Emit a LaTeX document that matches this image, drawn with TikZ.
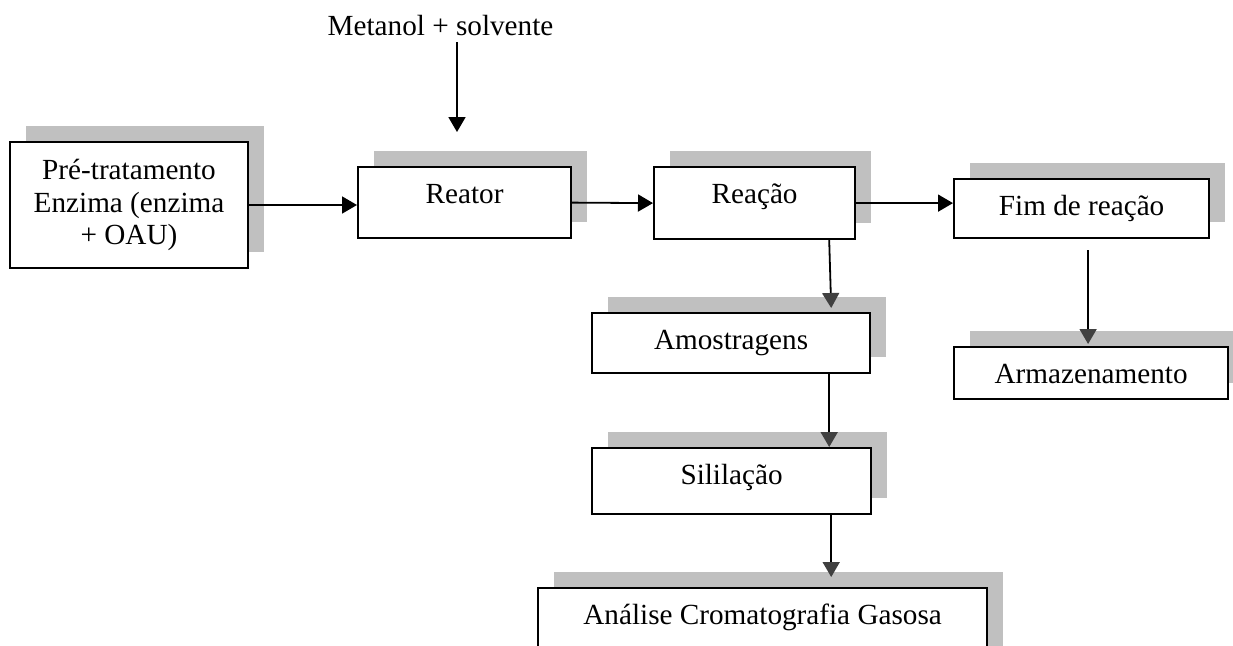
\documentclass[tikz,border=0pt]{standalone}
\usepackage{fontspec}
\setmainfont{Liberation Serif}
\usetikzlibrary{arrows.meta, positioning, shadows, calc}
\definecolor{shadowGray}{HTML}{C0C0C0}
\definecolor{tipGray}{HTML}{404040}
\tikzset{
  arrowK/.style={-{Triangle[length=7.5pt, width=8.5pt]}, black, line width=0.9pt},
  arrowS/.style={-{Triangle[length=7.5pt, width=8.5pt, color=tipGray]}, black, line width=0.9pt},
  boxBase/.style={rectangle, draw=black, fill=white, line width=1.1pt,
                  align=center, inner xsep=0pt, inner ysep=1.5pt,
                  drop shadow={shadow xshift=8pt, shadow yshift=8pt,
                               fill=shadowGray, opacity=1}},
  procBox/.style={boxBase, anchor=north west, text height=16.5pt},
}

\begin{document}
\begin{tikzpicture}[x=0.5pt, y=-0.5pt, font=\fontsize{14.6pt}{16.2pt}\selectfont]
    \useasboundingbox (0,0) rectangle (1233,645);
    % etapas
    \node[boxBase, minimum width=119pt, minimum height=63pt] (pre) at (129,205)
      {Pré-tratamento\\Enzima (enzima\\+ OAU)};
    \node[procBox, minimum width=106.5pt, text depth=16pt]  (reator) at (357,166) {Reator};
    \node[procBox, minimum width=100.5pt, text depth=16.5pt] (reacao) at (653,166) {Reação};
    \node[procBox, minimum width=127.5pt, text depth=10pt]  (fim) at (953,178) {Fim de reação};
    \node[procBox, minimum width=139pt, text depth=10.5pt]  (amost) at (591,312) {Amostragens};
    \node[procBox, minimum width=137pt, text depth=6.5pt]   (armaz) at (953,346) {Armazenamento};
    \node[procBox, minimum width=139.5pt, text depth=13.5pt] (silil) at (591,447) {Sililação};
    \node[procBox, minimum width=224.5pt, text depth=20pt]  (analise) at (537,587)
      {Análise Cromatografia Gasosa};
    % alimentacao
    \node[anchor=base] (metanol) at (440.5,35) {Metanol + solvente};
    \coordinate (feed) at (457,132);
    \draw[arrowK] (metanol.south -| feed) -- (feed);
    % ligacoes
    \draw[arrowK] (pre.east) -- (pre.east -| reator.west);
    \draw[arrowK] (reator.east) -- (reacao.west);
    \draw[arrowK] (reacao.east) -- (reacao.east -| fim.west);
    \draw[arrowS] ([xshift=-13.5pt]reacao.south east) -- ([xshift=-20pt, yshift=2pt]amost.north east);
    \draw[arrowS] ([xshift=-21pt]amost.south east) -- ([xshift=-21.5pt]silil.north east);
    \draw[arrowS, shorten >=5pt] ([xshift=-20.5pt]silil.south east)
      -- ([xshift=-20.5pt]silil.south east |- analise.north);
    \draw[arrowS, shorten <=5.5pt, shorten >=1pt] ([xshift=3.25pt]fim.south)
      -- ([xshift=3.25pt]fim.south |- armaz.north);
\end{tikzpicture}
\end{document}
